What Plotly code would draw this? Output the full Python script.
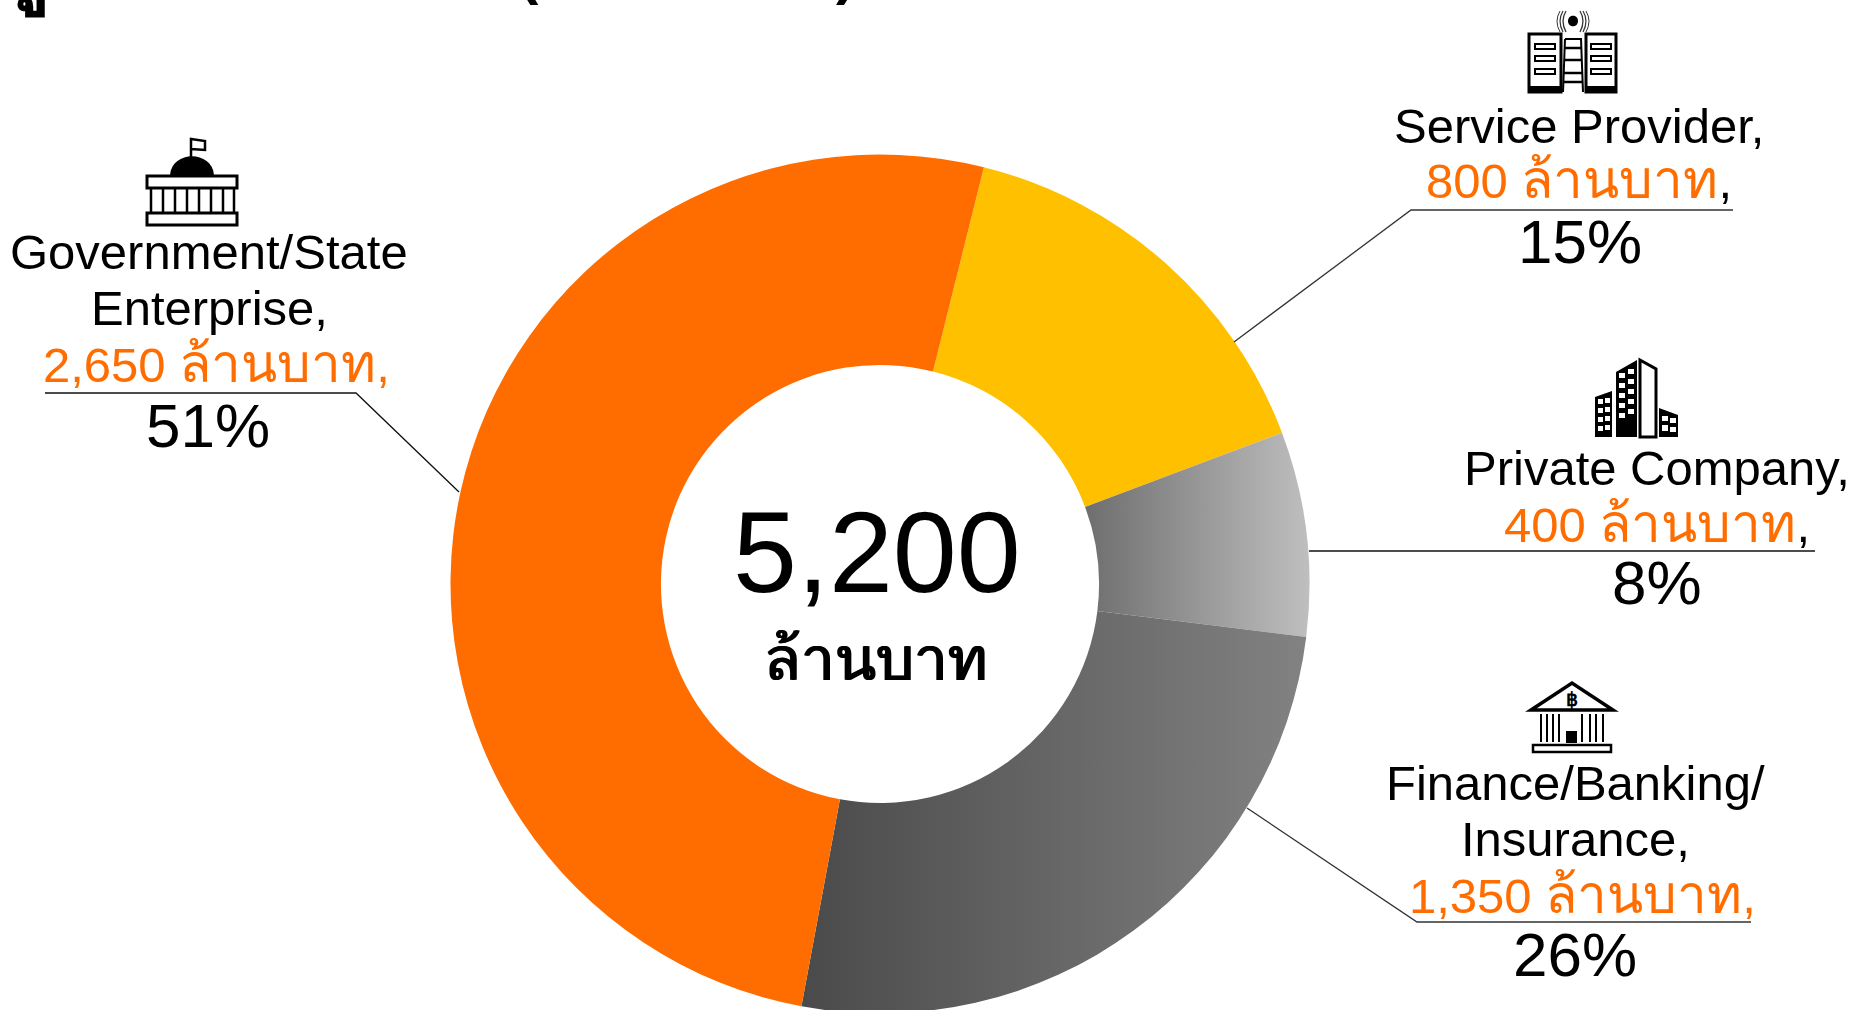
import plotly.graph_objects as go

# ---- data ----
segments = ["Service Provider", "Private Company", "Finance/Banking/Insurance", "Government/State Enterprise"]
values = [800, 400, 1350, 2650]
colors = ["#FFC000", "#9A9A9A", "#666666", "#FF6D00"]
total_label = "5,200"
unit_label = "ล้านบาท"
title_first = "มู"
title_rest = "ลค่าตลาดแยกตามองค์กร"
title_unit = "(ล้านบาท 66)"

W, H = 1858, 1020
FONT = "Liberation Sans, Arial, sans-serif"
ORANGE = "#FF6D00"
cx, cy, r = 880, 584, 429.5

fig = go.Figure()
fig.add_trace(go.Pie(
    labels=segments, values=values, sort=False, direction="clockwise", rotation=14,
    hole=0.51, textinfo="none", hoverinfo="label+value+percent", showlegend=False,
    marker=dict(colors=colors, line=dict(width=0)),
    domain=dict(x=[(cx - r) / W, (cx + r) / W], y=[1 - (cy + r) / H, 1 - (cy - r) / H]),
))

# hidden pixel-based axes for annotations and shapes
fig.update_xaxes(range=[0, W], visible=False, fixedrange=True)
fig.update_yaxes(range=[H, 0], visible=False, fixedrange=True)
fig.add_trace(go.Scatter(x=[], y=[], showlegend=False))


def txt(x, y, s, size, color="#000", bold=False, shadow=None):
    if bold:
        s = f"<b>{s}</b>"
    font = dict(family=FONT, size=size, color=color)
    if shadow:
        font["shadow"] = shadow
    fig.add_annotation(x=x, y=y, xref="x", yref="y", text=s, showarrow=False,
                       xanchor="center", yanchor="middle", font=font)


def thai(s, color=ORANGE):
    return f"<span style='color:{color};font-size:53px'>{s}</span>"


# title, cut off by the top of the picture
for x, yb, anchor, s, size in [
    (52, 20, "right", title_first, 85),
    (54, 8, "left", title_rest, 48),
    (687, 7, "center", title_unit, 58),
]:
    fig.add_annotation(x=x, y=yb, xref="x", yref="y", text=f"<b>{s}</b>", showarrow=False,
                       xanchor=anchor, yanchor="bottom",
                       font=dict(family=FONT, size=size, color="#000"))

txt(877, 552, total_label, 115)
txt(876, 659, unit_label, 60, shadow="0.6px 0 0 #000, -0.6px 0 0 #000")

TXT = 49
PCT = 62
lab = [
    (1579, 126, "Service Provider,", TXT, "#000"),
    (1579, 179, f"<span style='color:{ORANGE}'>800 </span>{thai('ล้านบาท')},", TXT, "#000"),
    (1580, 241, "15%", PCT, "#000"),
    (209, 252, "Government/State", TXT, "#000"),
    (209, 308, "Enterprise,", TXT, "#000"),
    (216, 363, f"2,650 {thai('ล้านบาท')},", TXT, ORANGE),
    (208, 425, "51%", PCT, "#000"),
    (1657, 468, "Private Company,", TXT, "#000"),
    (1657, 523, f"<span style='color:{ORANGE}'>400 </span>{thai('ล้านบาท')},", TXT, "#000"),
    (1657, 582, "8%", PCT, "#000"),
    (1575, 783, "Finance/Banking/", TXT, "#000"),
    (1575, 839, "Insurance,", TXT, "#000"),
    (1582, 894, f"1,350 {thai('ล้านบาท')},", TXT, ORANGE),
    (1575, 954, "26%", PCT, "#000"),
]
for x, y, s, size, c in lab:
    txt(x, y, s, size, c)


def poly(pts, color="#000", width=1.2):
    d = "M" + " L".join(f"{x},{y}" for x, y in pts)
    fig.add_shape(type="path", path=d, xref="x", yref="y", line=dict(color=color, width=width))


def shape_path(d, fill=None, line_w=0, color="#000"):
    fig.add_shape(type="path", path=d, xref="x", yref="y",
                  fillcolor=fill if fill else "rgba(0,0,0,0)",
                  line=dict(color=color, width=line_w))


def rect(x0, y0, x1, y1, fill=None, lw=0):
    shape_path(f"M{x0},{y0} L{x1},{y0} L{x1},{y1} L{x0},{y1} Z", fill, lw)


# leader lines
poly([(1234, 342), (1411, 210), (1733, 210)], "#333", 1.3)
poly([(45, 393), (356, 393), (459, 492)], "#111", 1.3)
poly([(1309, 551), (1815, 551)], "#111", 1.3)
poly([(1247, 808), (1417, 922), (1751, 922)], "#333", 1.3)

# government icon
shape_path("M170,175 C172,150 212,150 214,175 Z", "#000")
poly([(191, 157), (191, 139), (205, 141), (205, 150), (191, 149)], "#000", 2.5)
rect(147, 176, 237, 188, None, 3)
rect(147, 213, 237, 225, None, 3)
for x in (151, 163, 175, 187, 199, 211, 223, 234):
    poly([(x, 188), (x, 213)], "#000", 2.5)

# service provider icon
rect(1529, 34, 1561, 92, None, 3)
rect(1586, 34, 1616, 92, None, 3)
rect(1529, 86, 1561, 92, "#000")
rect(1586, 86, 1616, 92, "#000")
for y in (46, 58, 71):
    rect(1535, y - 2, 1555, y + 3, None, 2)
    rect(1591, y - 2, 1611, y + 3, None, 2)
poly([(1565, 39), (1581, 39), (1583, 92)], "#000", 2)
poly([(1565, 39), (1563, 92)], "#000", 2)
for y in (48, 60, 73, 82):
    poly([(1564, y), (1582, y)], "#000", 2.5)
shape_path("M1568,21 C1568,14 1578,14 1578,21 C1578,28 1568,28 1568,21 Z", "#000")
for a, w in ((7, 1.3), (10, 1.2), (13, 1.0)):
    shape_path(f"M{1573-a},11 Q{1573-a-6},21 {1573-a},32", None, w, "#333")
    shape_path(f"M{1573+a},11 Q{1573+a+6},21 {1573+a},32", None, w, "#333")

# buildings icon
shape_path("M1595,397 L1612,391 L1612,437 L1595,437 Z", "#000")
shape_path("M1616,372 L1637,360 L1637,437 L1616,437 Z", "#000")
shape_path("M1640,360 L1656,369 L1656,437 L1640,437 Z", None, 3)
shape_path("M1659,408 L1678,415 L1678,437 L1659,437 Z", "#000")
for y in (399, 408, 417, 426):
    rect(1598, y, 1603, y + 5, "#fff")
    rect(1605, y - 1, 1610, y + 4, "#fff")
for y in (372, 382, 392, 402, 412):
    rect(1619, y + 1, 1625, y + 6, "#fff")
    rect(1628, y - 3, 1634, y + 2, "#fff")
rect(1662, 416, 1668, 421, "#fff")
rect(1670, 418, 1676, 423, "#fff")
rect(1662, 425, 1668, 431, "#fff")
rect(1670, 427, 1676, 432, "#fff")

# bank icon
shape_path("M1531,710 L1572,683 L1613,710 Z", None, 3.5)
txt(1572, 699, "฿", 19, "#000", bold=True)
for x in (1541, 1547, 1553, 1559, 1582, 1590, 1596, 1603):
    poly([(x, 714), (x, 742)], "#000", 2)
rect(1566, 731, 1577, 743, "#000")
shape_path("M1533,745 L1611,745 L1611,752 L1533,752 Z", None, 2.5)

fig.update_layout(width=W, height=H, margin=dict(l=0, r=0, t=0, b=0),
                  paper_bgcolor="#fff", plot_bgcolor="rgba(0,0,0,0)", showlegend=False)

post = """
document.documentElement.style.overflow='hidden';
document.documentElement.style.margin='0';
document.body.style.margin='0';
document.body.style.overflow='hidden';
var svg=document.querySelector('.main-svg');
var ns='http://www.w3.org/2000/svg';
var defs=document.createElementNS(ns,'defs');
function grad(id,a,b){var g=document.createElementNS(ns,'linearGradient');g.setAttribute('id',id);
 [['0%',a],['100%',b]].forEach(function(s){var t=document.createElementNS(ns,'stop');t.setAttribute('offset',s[0]);t.setAttribute('stop-color',s[1]);g.appendChild(t);});defs.appendChild(g);}
grad('gFin','#4A4A4A','#828282');grad('gPri','#6E6E6E','#BFBFBF');svg.insertBefore(defs,svg.firstChild);
var ps=document.querySelectorAll('.slice path.surface');
ps[1].style.fill='url(#gPri)';ps[2].style.fill='url(#gFin)';
"""
fig.write_html("out.html", post_script=post, config={"displayModeBar": False})
